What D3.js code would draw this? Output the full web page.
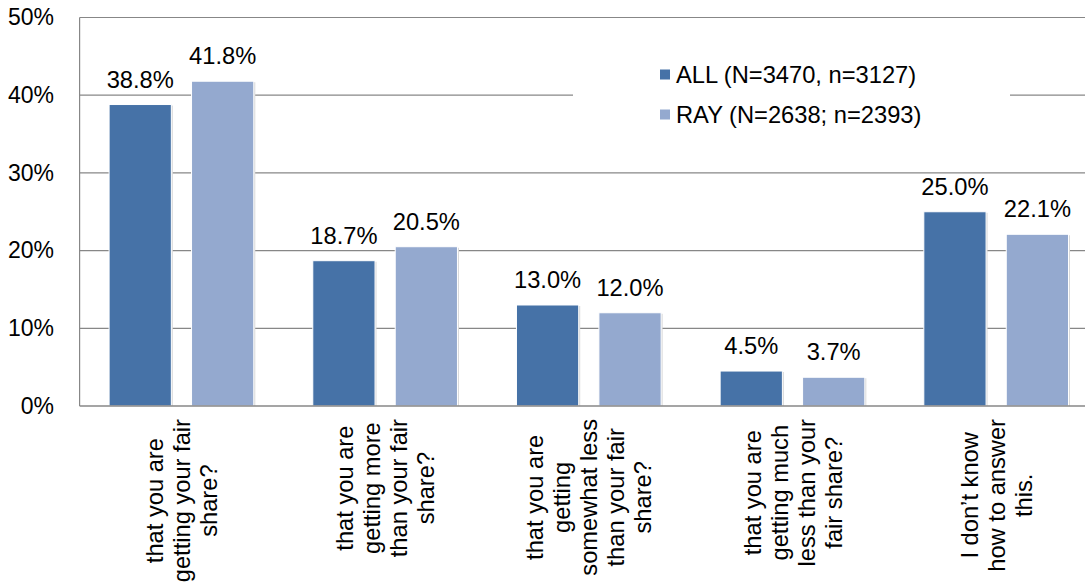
<!DOCTYPE html>
<html>
<head>
<meta charset="utf-8">
<script src="https://cdn.jsdelivr.net/npm/d3@7"></script>
<style>
  html, body { margin: 0; padding: 0; background: #fff; }
  svg { display: block; font-family: "Liberation Sans", Arial, sans-serif; }
</style>
</head>
<body>
<svg id="chart" width="1085" height="585"></svg>
<script>
const categories = [
  ["that you are", "getting your fair", "share?"],
  ["that you are", "getting more", "than your fair", "share?"],
  ["that you are", "getting", "somewhat less", "than your fair", "share?"],
  ["that you are", "getting much", "less than your", "fair share?"],
  ["I don\u2019t know", "how to answer", "this."]
];
const seriesNames = ["ALL (N=3470, n=3127)", "RAY (N=2638; n=2393)"];
const allValues = [38.8, 18.7, 13.0, 4.5, 25.0];
const rayValues = [41.8, 20.5, 12.0, 3.7, 22.1];
const yTicks = [0, 10, 20, 30, 40, 50];
const colors = ["#4672A7", "#94A9CF"];

(function () {
const svg = d3.select("#chart");
const pL = 79.6, pR = 1098, pT = 17.5, pB = 406;
const fs = 23.7, fsTick = 23;

const x0 = d3.scaleBand().domain(d3.range(categories.length)).range([pL, pR]).paddingInner(0).paddingOuter(0);
const x1 = d3.scaleBand().domain([0, 1]).range([29.5, x0.bandwidth() - 29.5]).paddingInner(0.245);
const y = d3.scaleLinear().domain([0, 50]).range([pB, pT]);

// gridlines
svg.append("g").selectAll("line").data(yTicks.filter(d => d > 0)).join("line")
  .attr("x1", pL).attr("x2", pR)
  .attr("y1", d => y(d)).attr("y2", d => y(d))
  .attr("stroke", "#878787").attr("stroke-width", 1.2);

// y axis labels
const yAxis = d3.axisLeft(y).tickValues(yTicks).tickFormat(d => d + "%").tickSize(0).tickPadding(0);
const ya = svg.append("g").attr("transform", "translate(54,0)").call(yAxis);
ya.select(".domain").remove();
ya.selectAll("text").attr("font-size", fsTick).attr("fill", "#000").attr("font-family", "Liberation Sans, Arial, sans-serif");

// left axis line
svg.append("line").attr("x1", pL).attr("x2", pL).attr("y1", pT).attr("y2", pB)
  .attr("stroke", "#878787").attr("stroke-width", 1.2);

// bars
const series = [allValues, rayValues];
const groups = svg.append("g").selectAll("g").data(categories).join("g")
  .attr("transform", (d, i) => `translate(${x0(i)},0)`);

groups.each(function(cat, i) {
  const g = d3.select(this);
  series.forEach((vals, s) => {
    const bx = x1(s), bw = x1.bandwidth(), v = vals[i];
    g.append("rect").attr("x", bx + 1.5).attr("y", y(v) + 1).attr("width", bw).attr("height", pB - y(v) - 1)
      .attr("fill", "#d9d9d9");
    g.append("rect").attr("x", bx).attr("y", y(v)).attr("width", bw).attr("height", pB - y(v))
      .attr("fill", colors[s]).attr("stroke", "#ffffff").attr("stroke-width", 1);
    g.append("text").attr("x", bx + bw / 2).attr("y", y(v) - 17)
      .attr("text-anchor", "middle").attr("font-size", fs).attr("fill", "#000")
      .text(v.toFixed(1) + "%");
  });
});

// bottom axis line
svg.append("line").attr("x1", pL).attr("x2", pR).attr("y1", pB).attr("y2", pB)
  .attr("stroke", "#878787").attr("stroke-width", 1.5);

// category labels (rotated)
const lineGap = 27;
categories.forEach((lines, i) => {
  const cx = x0(i) + x0.bandwidth() / 2;
  const g = svg.append("g");
  const texts = lines.map(t => g.append("text").attr("font-size", fs).attr("text-anchor", "middle").attr("fill", "#000").text(t));
  const maxLen = d3.max(texts, t => t.node().getComputedTextLength());
  const cy = 419 + maxLen / 2;
  texts.forEach((t, j) => {
    const lx = cx + (j - (lines.length - 1) / 2) * lineGap + 0.36 * fs;
    t.attr("transform", `translate(${lx},${cy}) rotate(-90)`);
  });
});

// legend
const lg = svg.append("g");
lg.append("rect").attr("x", 573).attr("y", 52).attr("width", 437).attr("height", 84).attr("fill", "#fff");
seriesNames.forEach((name, s) => {
  const cyL = 74.5 + s * 40;
  lg.append("rect").attr("x", 660).attr("y", cyL - 5).attr("width", 10).attr("height", 10).attr("fill", colors[s]);
  lg.append("text").attr("x", 676).attr("y", cyL).attr("dy", "0.35em").attr("font-size", fs).attr("fill", "#000").text(name);
});
})();
</script>
</body>
</html>
